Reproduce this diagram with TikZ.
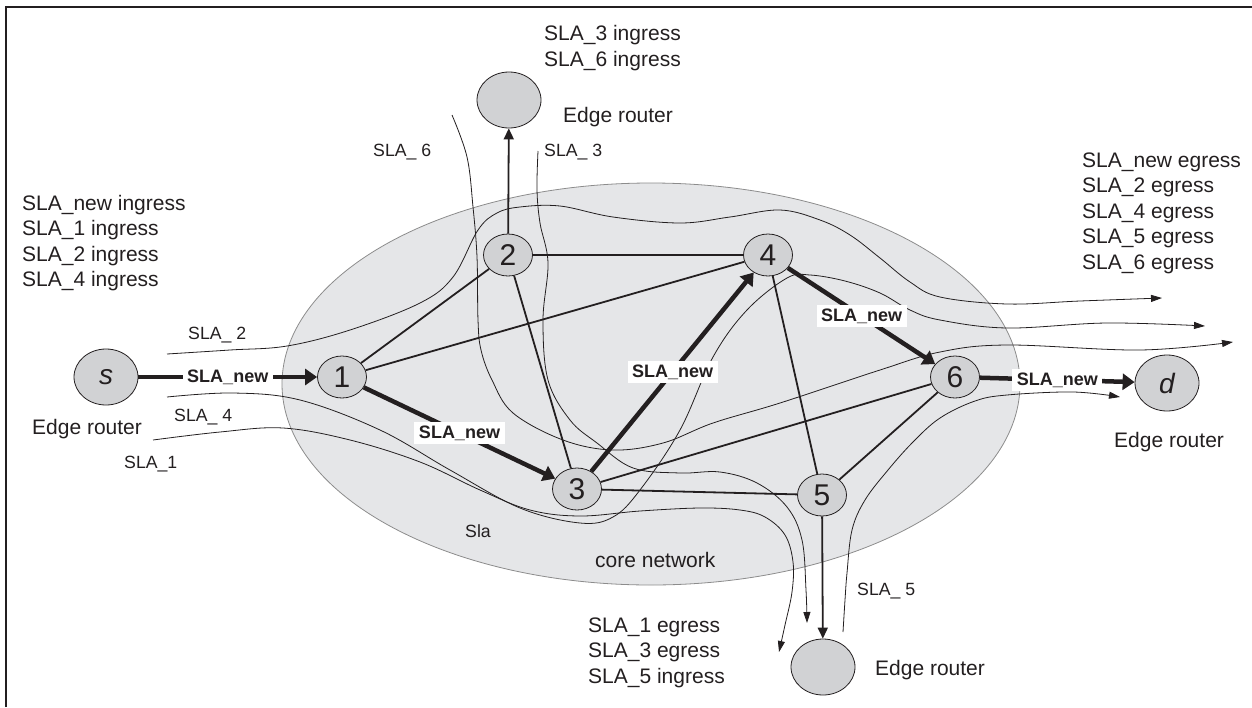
\documentclass[tikz,border=0pt]{standalone}
\usepackage{fontspec}
\setmainfont{Liberation Sans}
\usetikzlibrary{shapes.geometric,arrows.meta}
\definecolor{nodefill}{RGB}{209,210,212}
\definecolor{corefill}{RGB}{229,230,232}
\definecolor{ink}{RGB}{35,31,32}
\definecolor{coreline}{RGB}{140,140,140}
\begin{document}
\begin{tikzpicture}[x=1pt,y=-1pt,
  router/.style={ellipse, draw=ink, fill=nodefill, line width=0.8pt, minimum width=64pt, minimum height=56pt, inner sep=0pt, text=ink, font=\itshape\fontsize{28}{28}\selectfont},
  corenode/.style={ellipse, draw=ink, fill=nodefill, line width=0.8pt, minimum width=49pt, minimum height=42pt, inner sep=0pt, text=ink, font=\fontsize{30}{30}\selectfont},
  link/.style={draw=ink, line width=1.8pt},
  thickarrow/.style={draw=ink, line width=4.5pt, -{Triangle[length=12pt,width=16pt]}},
  slapath/.style={draw=ink, line width=0.8pt},
  thinhead/.style={-{Triangle[length=11pt,width=7pt]}},
  newlabel/.style={fill=white, text=ink, font=\bfseries\fontsize{18}{18}\selectfont, inner xsep=4.5pt, inner ysep=3.5pt},
  txt/.style={font=\fontsize{21}{25.6}\selectfont, anchor=base west, inner sep=0pt, text=ink},
  lbl/.style={font=\fontsize{17.7}{20}\selectfont, anchor=base west, inner sep=0pt, text=ink}
]
\useasboundingbox (0,0) rectangle (1252,707);
\draw[ink, line width=2pt] (6,707) -- (6,7) -- (1252,7);
\filldraw[fill=corefill, draw=coreline, line width=0.8pt] (651,384) ellipse [x radius=369, y radius=201];

% nodes
\node[router] (s) at (106,377) {s};
\node[router] (d) at (1167,383) {d};
\node[router] (top) at (509,100) {};
\node[router] (bot) at (823,667) {};
\node[corenode] (n1) at (342,377) {1};
\node[corenode] (n2) at (508,255) {2};
\node[corenode] (n3) at (577,489) {3};
\node[corenode] (n4) at (768,255) {4};
\node[corenode] (n5) at (822,495) {5};
\node[corenode] (n6) at (955,377) {6};

% SLA paths
\draw[slapath, thinhead] plot[smooth, tension=0.6] coordinates {(167,354) (230,350) (287,346) (350,330) (420,303) (453,277) (478,230) (497,213) (520,207) (560,206) (613,217) (680,223) (730,217) (780,210) (820,220) (850,235) (880,258) (910,282) (940,297) (1007,304) (1080,301) (1162,298)};
\draw[slapath, thinhead] plot[smooth, tension=0.6] coordinates {(167,397) (233,393) (300,400) (380,430) (450,470) (520,508) (580,523) (613,517) (640,490) (680,430) (713,357) (747,310) (787,278) (810,275) (845,281) (880,293) (910,310) (940,320) (1007,328) (1107,323) (1205,326)};
\draw[slapath, thinhead] plot[smooth, tension=0.6] coordinates {(153,440) (220,432) (283,428) (350,440) (420,462) (480,490) (530,510) (580,516) (640,511) (700,508) (740,510) (765,517) (785,535) (793,562) (792,592) (785,625) (779,652)};
\draw[slapath, thinhead] plot[smooth, tension=0.6] coordinates {(452,115) (467,157) (473,207) (477,257) (478,320) (481,350) (492,380) (513,413) (563,440) (613,450) (663,443) (713,423) (780,403) (880,370) (940,352) (1007,345) (1140,350) (1233,342)};
\draw[slapath, thinhead] plot[smooth, tension=0.6] coordinates {(538,151) (537,190) (540,223) (548,263) (543,320) (548,380) (570,420) (597,443) (633,468) (680,473) (720,472) (757,483) (787,507) (802,540) (806,590) (807,623)};
\draw[slapath, thinhead] plot[smooth, tension=0.6] coordinates {(843,632) (845,600) (847,573) (852,530) (865,500) (888,470) (913,442) (940,418) (975,401) (1007,395) (1073,392) (1120,397)};

% links
\draw[link] (n1) -- (n2);
\draw[link] (n1) -- (n4);
\draw[link] (n2) -- (n4);
\draw[link] (n2) -- (n3);
\draw[link] (n3) -- (n6);
\draw[link] (n3) -- (n5);
\draw[link] (n4) -- (n5);
\draw[link] (n5) -- (n6);
\draw[link, -{Triangle[length=11pt,width=10pt]}] (n2) -- (top);
\draw[link, -{Triangle[length=11pt,width=10pt]}] (n5) -- (bot);

% SLA_new path
\draw[thickarrow] (s) -- (n1) node[newlabel, pos=0.5] (l1) {SLA\_new};
\draw[thickarrow] (n1) -- (n3) node[newlabel, pos=0.5] (l2) {SLA\_new};
\draw[thickarrow] (n3) -- (n4) node[newlabel, pos=0.5] (l3) {SLA\_new};
\draw[thickarrow] (n4) -- (n6) node[newlabel, pos=0.5] (l4) {SLA\_new};
\draw[thickarrow] (n6) -- (d) node[newlabel, pos=0.5] (l5) {SLA\_new};

% texts
\node[txt] (tt1) at (544,40) {SLA\_3 ingress};
\node[txt] (tt2) at (544,66) {SLA\_6 ingress};
\node[txt] (ter) at (563,122.5) {Edge router};
\node[lbl] (p6) at (373,156) {SLA\_ 6};
\node[lbl] (p3) at (544,156) {SLA\_ 3};
\node[txt] (lt1) at (22,210) {SLA\_new ingress};
\node[txt] (lt2) at (22,235.6) {SLA\_1 ingress};
\node[txt] (lt3) at (22,261.2) {SLA\_2 ingress};
\node[txt] (lt4) at (22,286.8) {SLA\_4 ingress};
\node[lbl] (p2) at (188,339) {SLA\_ 2};
\node[lbl] (p4) at (174,421) {SLA\_ 4};
\node[txt] (ler) at (32,434.5) {Edge router};
\node[lbl] (p1) at (124,468) {SLA\_1};
\node[lbl] (sla) at (465,537) {Sla};
\node[txt] (cn) at (595,567) {core network};
\node[lbl] (p5) at (857,595) {SLA\_ 5};
\node[txt] (bt1) at (588,632) {SLA\_1 egress};
\node[txt] (bt2) at (588,657.6) {SLA\_3 egress};
\node[txt] (bt3) at (588,683.2) {SLA\_5 ingress};
\node[txt] (ber) at (875,675) {Edge router};
\node[txt] (rt1) at (1082,167) {SLA\_new egress};
\node[txt] (rt2) at (1082,192.6) {SLA\_2 egress};
\node[txt] (rt3) at (1082,218.2) {SLA\_4 egress};
\node[txt] (rt4) at (1082,243.8) {SLA\_5 egress};
\node[txt] (rt5) at (1082,269.4) {SLA\_6 egress};
\node[txt] (der) at (1114,447) {Edge router};
\end{tikzpicture}
\end{document}
